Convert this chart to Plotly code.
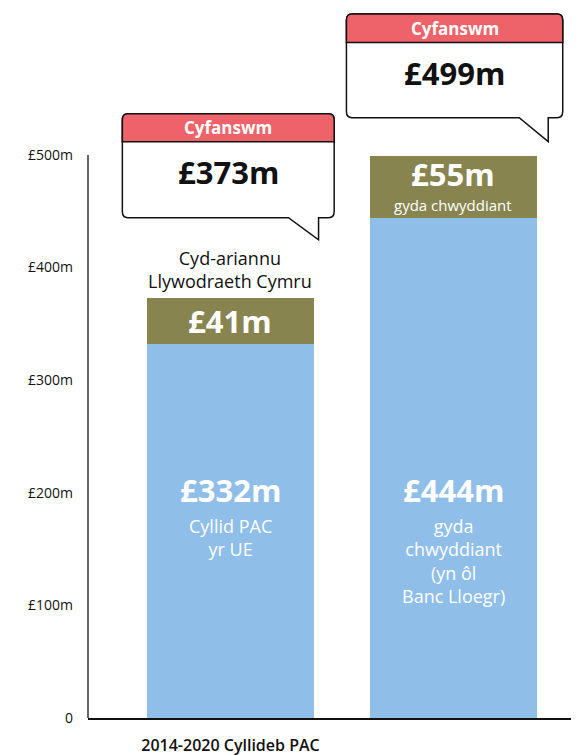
import plotly.graph_objects as go

# ---- data ----
categories = ["2014-2020 Cyllideb PAC", ""]
x_pos = [0, 1]
eu_values = [332, 444]          # blue segment (£m)
top_values = [41, 55]           # olive segment (£m)
totals = [373, 499]
eu_labels = ["£332m", "£444m"]
eu_sublabels = ["Cyllid PAC<br>yr UE", "gyda<br>chwyddiant<br>(yn ôl<br>Banc Lloegr)"]
top_labels = ["£41m", "£55m"]
top_sublabels = ["", "gyda chwyddiant"]
total_labels = ["£373m", "£499m"]
y_tickvals = [0, 100, 200, 300, 400, 500]
y_ticktext = ["0", "£100m", "£200m", "£300m", "£400m", "£500m"]

BLUE = "#8FBEE8"
OLIVE = "#878450"
RED = "#EE626A"
FONT = "Open Sans"

fig = go.Figure()
fig.add_trace(go.Bar(x=x_pos, y=eu_values, marker=dict(color=BLUE, line=dict(width=0)),
                     width=0.75, hoverinfo="skip"))
fig.add_trace(go.Bar(x=x_pos, y=top_values, marker=dict(color=OLIVE, line=dict(width=0)),
                     width=0.75, hoverinfo="skip"))

annotations = []
shapes = []

# labels inside bars
for i, xp in enumerate(x_pos):
    annotations.append(dict(x=xp, y=202.5, xref="x", yref="y", yanchor="middle",
                            text="<b>%s</b>" % eu_labels[i], showarrow=False,
                            font=dict(family=FONT, size=31, color="white")))
    annotations.append(dict(x=xp, y=183, xref="x", yref="y", yanchor="top",
                            text=eu_sublabels[i], showarrow=False,
                            font=dict(family=FONT, size=18, color="white")))
    mid = eu_values[i] + top_values[i] / 2
    if top_sublabels[i]:
        annotations.append(dict(x=xp, y=mid + 12, xref="x", yref="y", yanchor="middle",
                                text="<b>%s</b>" % top_labels[i], showarrow=False,
                                font=dict(family=FONT, size=31, color="white")))
        annotations.append(dict(x=xp, y=mid - 15.5, xref="x", yref="y", yanchor="middle",
                                text=top_sublabels[i], showarrow=False,
                                font=dict(family=FONT, size=15, color="white")))
    else:
        annotations.append(dict(x=xp, y=mid, xref="x", yref="y", yanchor="middle",
                                text="<b>%s</b>" % top_labels[i], showarrow=False,
                                font=dict(family=FONT, size=31, color="white")))

# co-financing label above bar 1
annotations.append(dict(x=0, y=totals[0] + 25, xref="x", yref="y", yanchor="middle",
                        text="Cyd-ariannu<br>Llywodraeth Cymru", showarrow=False,
                        font=dict(family=FONT, size=18, color="#111")))


def callout(cx, w, top, hdr, bot, tip_y, tx0, tx1, title, value, value_y):
    L, R = cx - w / 2, cx + w / 2
    rx, ry = 0.025, 5.5
    outline = (f"M {L+rx},{top} L {R-rx},{top} Q {R},{top} {R},{top-ry} "
               f"L {R},{bot+ry} Q {R},{bot} {R-rx},{bot} "
               f"L {cx+tx1},{bot} L {cx+tx1},{tip_y} L {cx+tx0},{bot} "
               f"L {L+rx},{bot} Q {L},{bot} {L},{bot+ry} L {L},{top-ry} Q {L},{top} {L+rx},{top} Z")
    header = (f"M {L},{hdr} L {L},{top-ry} Q {L},{top} {L+rx},{top} "
              f"L {R-rx},{top} Q {R},{top} {R},{top-ry} L {R},{hdr} Z")
    shapes.append(dict(type="path", path=outline, xref="x", yref="y",
                       fillcolor="white", line=dict(color="#111", width=1.5), layer="above"))
    shapes.append(dict(type="path", path=header, xref="x", yref="y",
                       fillcolor=RED, line=dict(color="#111", width=1.5), layer="above"))
    annotations.append(dict(x=cx, y=(top + hdr) / 2, xref="x", yref="y", yanchor="middle",
                            text="<b>%s</b>" % title, showarrow=False,
                            font=dict(family=FONT, size=17, color="white")))
    annotations.append(dict(x=cx, y=value_y, xref="x", yref="y", yanchor="middle",
                            text="<b>%s</b>" % value, showarrow=False,
                            font=dict(family=FONT, size=31, color="#111")))


callout(x_pos[0] - 0.01, 0.95, 536.7, 511.8, 444.3, 424.7, 0.27, 0.405,
        "Cyfanswm", total_labels[0], 484.9)
callout(x_pos[1] + 0.005, 0.97, 625.2, 599.8, 533.1, 511.8, 0.29, 0.42,
        "Cyfanswm", total_labels[1], 573.1)

# y axis line (only up to 500)
shapes.append(dict(type="line", xref="paper", yref="y", x0=0, x1=0, y0=0, y1=500,
                   line=dict(color="#333", width=1.5), layer="above"))

# the page adds an 8px body margin; the figure is sized so it ends at the window edge
fig.update_layout(
    width=571, height=747,
    margin=dict(l=80, r=0, t=0, b=37),
    paper_bgcolor="white", plot_bgcolor="white",
    barmode="stack", showlegend=False,
    font=dict(family=FONT, color="#111"),
    xaxis=dict(range=[-0.639, 1.563], tickvals=x_pos, ticktext=categories,
               showgrid=False, zeroline=False, showline=True, linecolor="#111", linewidth=1.5,
               ticks="", ticklabelstandoff=12,
               tickfont=dict(family=FONT, size=16, color="#111", weight=600)),
    yaxis=dict(range=[0, 630.5], tickvals=y_tickvals, ticktext=y_ticktext,
               showgrid=False, zeroline=False, showline=False, ticks="",
               ticklabelstandoff=14, tickfont=dict(family=FONT, size=14, color="#111")),
    annotations=annotations, shapes=shapes,
)

fig.write_html("out.html")
